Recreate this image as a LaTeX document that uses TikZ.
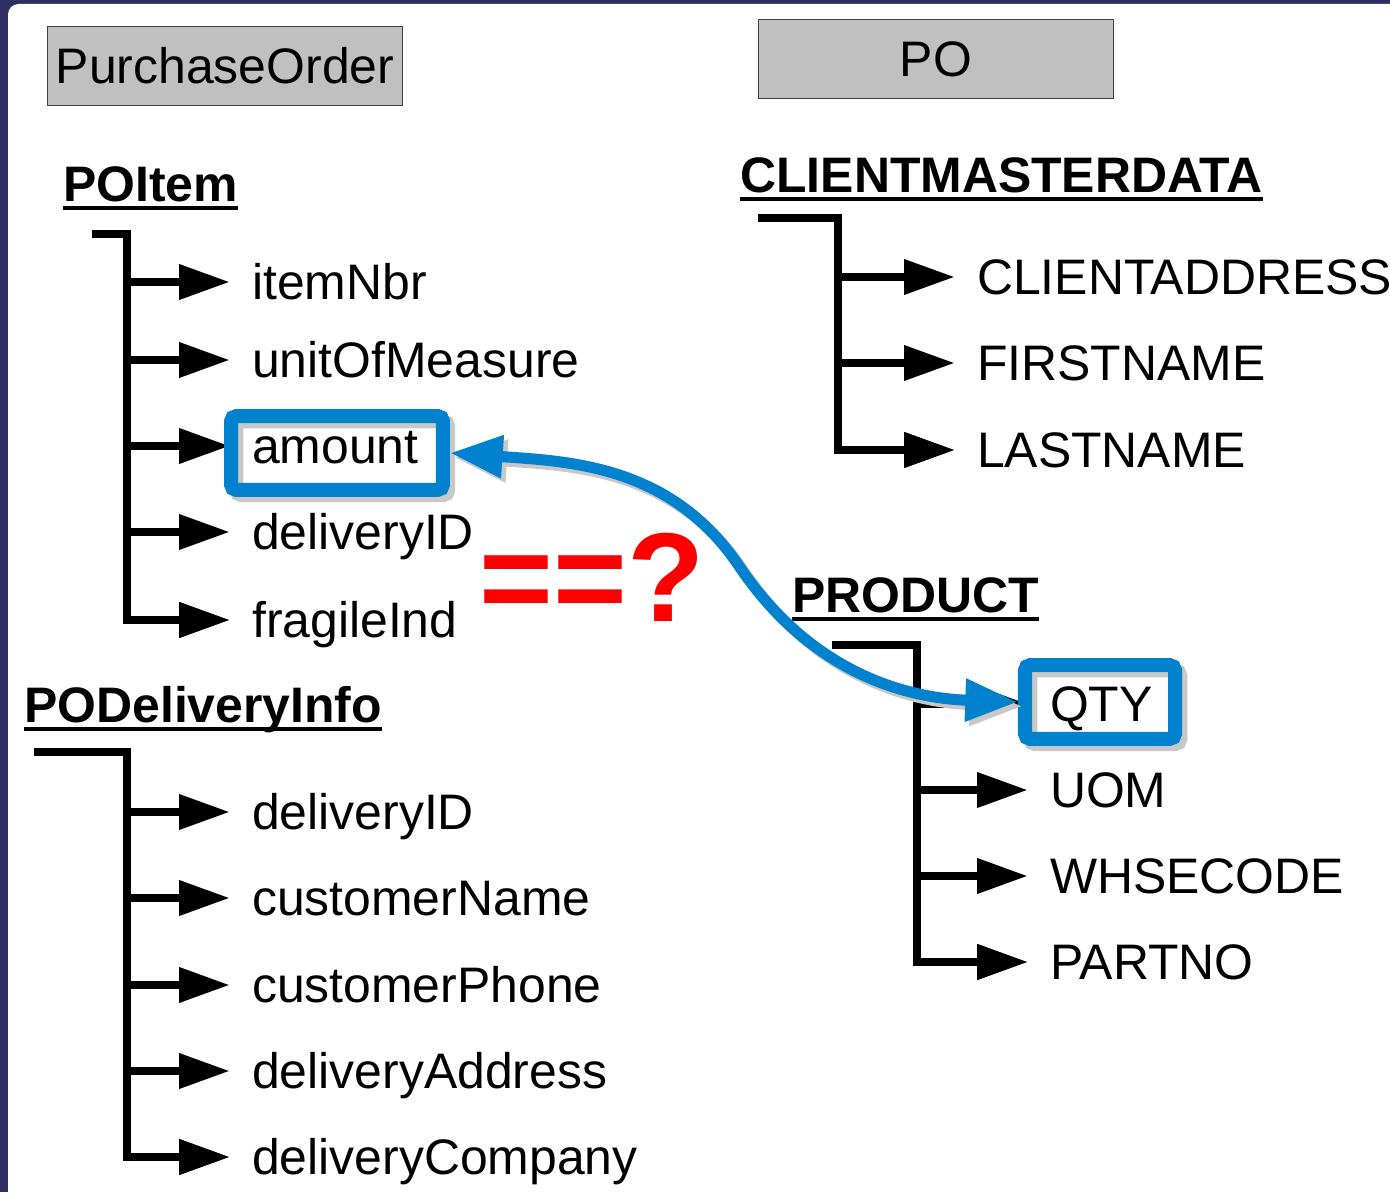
\documentclass[tikz,border=0pt]{standalone}
\usepackage{fontspec}
\setmainfont{Liberation Sans}
\usetikzlibrary{arrows.meta}
\definecolor{frame}{RGB}{47,46,98}
\definecolor{hiblue}{RGB}{0,130,206}
\definecolor{boxgray}{RGB}{192,192,192}
\definecolor{shadowgray}{RGB}{200,200,200}
\newcommand{\itemfont}{\fontsize{28.4}{34}\selectfont}
\begin{document}
\begin{tikzpicture}[x=0.02cm, y=-0.02cm, line join=miter,
    item/.style={anchor=west, inner xsep=12.4pt, inner ysep=0pt, text height=20.3pt, text depth=0pt, font=\itemfont},
    hdr/.style={anchor=base west, inner sep=0pt, font=\itemfont\bfseries},
    namebox/.style={draw=black!75, line width=0.8pt, fill=boxgray, minimum width=202pt, minimum height=45pt, text height=20.3pt, text depth=0pt, font=\itemfont},
    branch/.style={line width=5pt, -{Triangle[length=29pt, width=19pt]}},
    hilite/.style={draw=hiblue, line width=8pt, rounded corners=3pt, minimum height=42pt,
        preaction={draw=shadowgray, transform canvas={shift={(3pt,-3pt)}}}},
    link/.style={line width=6.3pt, {Triangle[length=30pt, width=23pt]}-{Triangle[length=30pt, width=23pt]}}]
    \useasboundingbox (0,0) rectangle (1390,1192);
    \fill[frame] (0,0) rectangle (1390,1192);
    \fill[white, rounded corners=6pt] (8,4) rectangle (1420,1230);

    \node[namebox] (purchaseorder) at (225,66) {PurchaseOrder};
    \node[namebox] (po) at (936,59) {PO};

    % POItem
    \node[hdr] (poitem) at (63,202) {POItem};
    \coordinate (poitem-stub) at (92,234);
    \coordinate (poitem-top) at (127,234);
    \foreach \n/\y in {itemNbr/282, unitOfMeasure/360, amount/446, deliveryID/532, fragileInd/620} {
        \node[item] (pi-\n) at (230,\y) {\n};
        \draw[branch] (poitem-top |- pi-\n.west) -- (pi-\n.west);
    };
    \draw[branch] (poitem-stub) -- (poitem-top) |- (pi-fragileInd.west);

    % PODeliveryInfo
    \node[hdr] (podeliv) at (24,723) {PODeliveryInfo};
    \coordinate (podeliv-stub) at (34,752);
    \coordinate (podeliv-top) at (127,752);
    \foreach \n/\y in {deliveryID/812, customerName/898, customerPhone/985, deliveryAddress/1071, deliveryCompany/1157} {
        \node[item] (pd-\n) at (230,\y) {\n};
        \draw[branch] (podeliv-top |- pd-\n.west) -- (pd-\n.west);
    };
    \draw[branch] (podeliv-stub) -- (podeliv-top) |- (pd-deliveryCompany.west);

    % CLIENTMASTERDATA
    \node[hdr] (client) at (740,193) {CLIENTMASTERDATA};
    \coordinate (client-stub) at (758,218);
    \coordinate (client-top) at (838,218);
    \foreach \n/\y in {CLIENTADDRESS/277, FIRSTNAME/363, LASTNAME/450} {
        \node[item] (cm-\n) at (955,\y) {\n};
        \draw[branch] (client-top |- cm-\n.west) -- (cm-\n.west);
    };
    \draw[branch] (client-stub) -- (client-top) |- (cm-LASTNAME.west);

    % PRODUCT
    \node[hdr] (product) at (792,613) {PRODUCT};
    \coordinate (product-stub) at (832,645);
    \coordinate (product-top) at (917,645);
    \foreach \n/\y in {QTY/704, UOM/790, WHSECODE/876, PARTNO/962} {
        \node[item] (pr-\n) at (1028,\y) {\n};
        \draw[branch] (product-top |- pr-\n.west) -- (pr-\n.west);
    };
    \draw[branch] (product-stub) -- (product-top) |- (pr-PARTNO.west);

    \foreach \h in {poitem, podeliv, client, product}
        \draw[line width=2.3pt] ([yshift=-3.4pt]\h.base west) -- ([yshift=-3.4pt]\h.base east);

    \node[hilite, minimum width=120.6pt] (amtbox) at (337,453) {};
    \node[hilite, minimum width=85.4pt] (qtybox) at (1100,702) {};

    \node[anchor=base west, inner sep=0pt, text=red, font=\fontsize{72}{80}\selectfont\bfseries] (query) at (479,622) {==?};

    \coordinate (bend) at (739,566);
    \foreach \c/\s in {shadowgray/2.5pt, hiblue/0pt}
        \draw[link, color=\c, transform canvas={shift={(\s,-\s)}}] (amtbox.east) to[out=-4, in=124] (bend) to[out=-56, in=178] (qtybox.west);
\end{tikzpicture}
\end{document}
